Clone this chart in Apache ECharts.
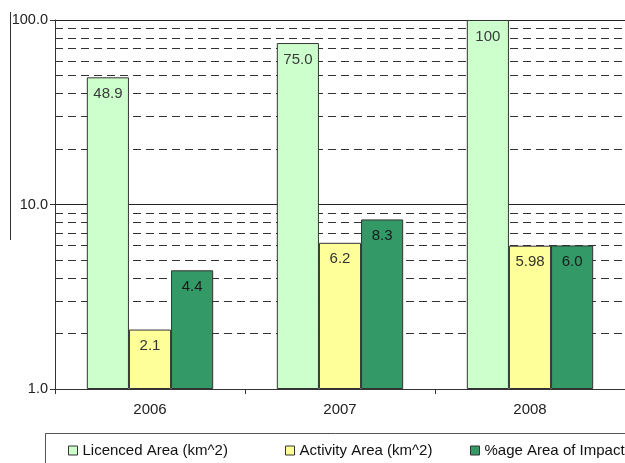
<!DOCTYPE html>
<html>
<head>
<meta charset="utf-8">
<script src="https://cdn.jsdelivr.net/npm/echarts@6/dist/echarts.min.js"></script>
<style>
  html, body { margin: 0; padding: 0; background: #fff; }
  #chart { width: 625px; height: 463px; }
</style>
</head>
<body>
<div id="chart"></div>
<script>
// Yearly figures for the three measured areas
const years = ['2006', '2007', '2008'];
const licencedArea = ['48.9', '75.0', '100'];
const activityArea = ['2.1', '6.2', '5.98'];
const impactArea = ['4.4', '8.3', '6.0'];
const seriesNames = ['Licenced Area (km^2)', 'Activity Area (km^2)', '%age Area of Impact'];
const yTicks = [1, 10, 100];
// Intermediate log gridlines (2..9 and 20..90)
const minorGrid = [2, 3, 4, 5, 6, 7, 8, 9, 20, 30, 40, 50, 60, 70, 80, 90];

const colors = ['#CCFFCC', '#FFFF99', '#339966'];
const FONT = '"Liberation Sans", Arial, sans-serif';

function barLabel(color) {
  return {
    show: true,
    position: 'insideTop',
    distance: 9,
    fontFamily: FONT,
    fontSize: 15,
    color: color,
    formatter: p => p.data.text
  };
}

function bar(name, vals, color, labelColor, extra) {
  return Object.assign({
    name: name,
    type: 'bar',
    barGap: '0%',
    barCategoryGap: '33.5%',
    data: vals.map(v => ({ value: Number(v), text: v })),
    itemStyle: { color: color, borderColor: '#333', borderWidth: 1 },
    label: barLabel(labelColor),
    z: 3
  }, extra || {});
}

const chart = echarts.init(document.getElementById('chart'), null, { renderer: 'canvas' });
chart.setOption({
  animation: false,
  backgroundColor: '#fff',
  grid: { left: 55, top: 20, width: 576, height: 369, containLabel: false },
  xAxis: {
    type: 'category',
    data: years,
    axisLine: { lineStyle: { color: '#333', width: 1 } },
    axisTick: { show: true, length: 5, lineStyle: { color: '#333' } },
    axisLabel: { fontFamily: FONT, fontSize: 15, color: '#222', margin: 13 }
  },
  yAxis: {
    type: 'log',
    logBase: 10,
    min: 1,
    max: 100,
    axisLine: { show: true, lineStyle: { color: '#333', width: 1 } },
    axisTick: { show: true, length: 5, lineStyle: { color: '#333' } },
    axisLabel: {
      fontFamily: FONT, fontSize: 14.5, color: '#222', margin: 7,
      formatter: v => yTicks.indexOf(Math.round(v)) >= 0 ? Number(v).toFixed(1) : ''
    },
    splitLine: { show: true, lineStyle: { color: '#222', width: 1 } }
  },
  legend: [0, 1, 2].map((i) => ({
    data: [seriesNames[i]],
    left: [63, 280, 465][i],
    top: 438,
    itemWidth: 9,
    itemHeight: 9,
    itemGap: 5,
    icon: 'rect',
    itemStyle: { borderColor: '#333', borderWidth: 1 },
    textStyle: { fontFamily: FONT, fontSize: 15, color: '#111' },
    selectedMode: false
  })),
  graphic: [
    { type: 'rect', shape: { x: 45.5, y: 433.5, width: 700, height: 100 },
      style: { fill: null, stroke: '#555', lineWidth: 1 }, z: 0 },
    { type: 'line', shape: { x1: 10.5, y1: 12, x2: 10.5, y2: 240 },
      style: { stroke: '#333', lineWidth: 1 } }
  ],
  series: [
    bar(seriesNames[0], licencedArea, colors[0], '#3a3a3a', {
      markLine: {
        silent: true,
        symbol: 'none',
        label: { show: false },
        lineStyle: { color: '#333', type: [8, 5], width: 1 },
        data: minorGrid.map(v => ({ yAxis: v })),
        z: 1
      }
    }),
    bar(seriesNames[1], activityArea, colors[1], '#333'),
    bar(seriesNames[2], impactArea, colors[2], '#1a1a1a')
  ]
});
</script>
</body>
</html>
